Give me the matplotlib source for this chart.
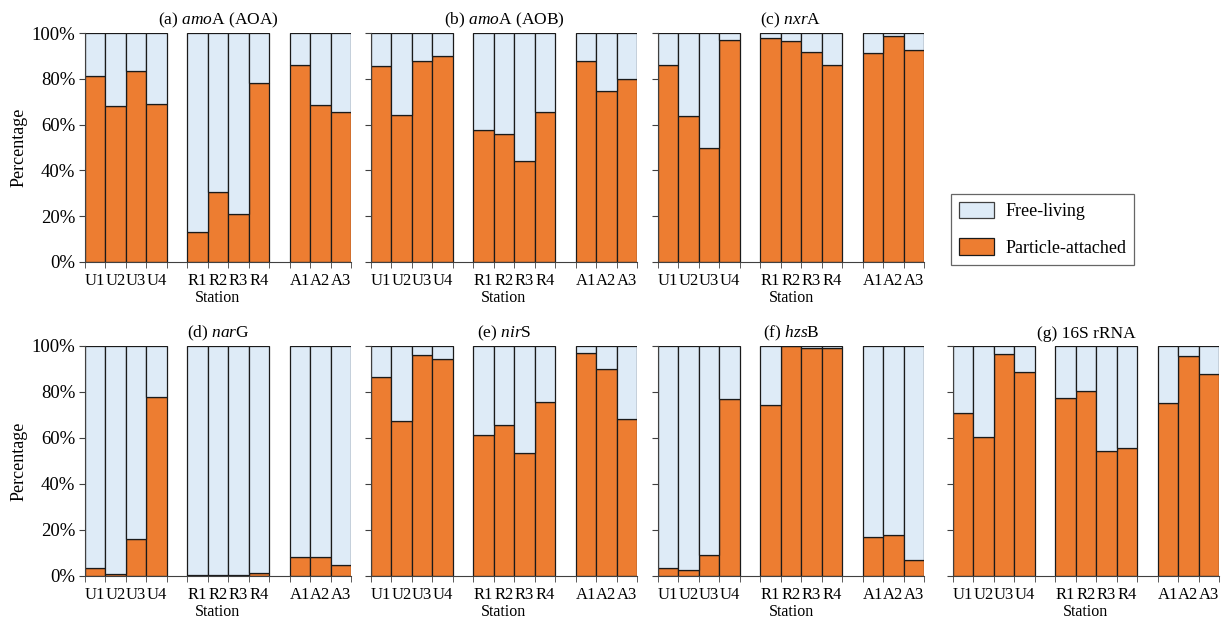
import matplotlib
matplotlib.use("Agg")
import matplotlib.pyplot as plt
import numpy as np
from matplotlib.patches import Patch

plt.rcParams['font.family'] = ['Liberation Serif', 'DejaVu Serif']
plt.rcParams['mathtext.fontset'] = 'custom'
plt.rcParams['mathtext.rm'] = 'Liberation Serif'
plt.rcParams['mathtext.it'] = 'Liberation Serif:italic'

stations = ["U1", "U2", "U3", "U4", "R1", "R2", "R3", "R4", "A1", "A2", "A3"]

titles = [
    r"(a) $\mathit{amo}$A (AOA)",
    r"(b) $\mathit{amo}$A (AOB)",
    r"(c) $\mathit{nxr}$A",
    r"(d) $\mathit{nar}$G",
    r"(e) $\mathit{nir}$S",
    r"(f) $\mathit{hzs}$B",
    "(g) 16S rRNA",
]

# Particle-attached share (%) per station; free-living is the remainder
amoA_AOA = [81.3, 68.0, 83.2, 69.0, 13.0, 30.4, 21.0, 78.2, 86.1, 68.5, 65.7]
amoA_AOB = [85.7, 64.1, 87.9, 89.8, 57.6, 55.8, 44.0, 65.6, 87.9, 74.8, 79.9]
nxrA = [85.9, 63.8, 49.8, 97.1, 97.7, 96.6, 91.7, 86.0, 91.1, 98.7, 92.6]
narG = [3.6, 1.0, 16.2, 78.0, 0.6, 0.6, 0.6, 1.3, 8.4, 8.4, 4.6]
nirS = [86.4, 67.5, 96.1, 94.2, 61.4, 65.5, 53.6, 75.5, 96.8, 90.1, 68.4]
hzsB = [3.6, 2.6, 9.0, 76.8, 74.2, 99.9, 99.3, 99.3, 16.9, 17.8, 6.9]
rRNA16S = [71.0, 60.3, 96.4, 88.6, 77.2, 80.4, 54.3, 55.5, 75.4, 95.7, 88.0]

particle_sets = [amoA_AOA, amoA_AOB, nxrA, narG, nirS, hzsB, rRNA16S]

orange = "#ED7D31"
lightblue = "#DEEBF7"

# slot positions: groups of 4, 4, 3 separated by an empty slot
pos = np.array([0, 1, 2, 3, 5, 6, 7, 8, 10, 11, 12])

fig = plt.figure(figsize=(12.25, 6.21), dpi=100)
W, H = 1225, 621
lefts = [85, 371, 658, 953]
ax_w = 266
rows = [(33, 262), (346, 576)]

# top row: three panels (legend fills the fourth slot); bottom row: four panels
grid = [(0, 0), (0, 1), (0, 2), (1, 0), (1, 1), (1, 2), (1, 3)]

axes = []
for (r, c) in grid:
    top, bot = rows[r]
    ax = fig.add_axes([lefts[c] / W, 1 - bot / H, ax_w / W, (bot - top) / H])
    axes.append(ax)

for i, ax in enumerate(axes):
    r, c = grid[i]
    pa = np.array(particle_sets[i])
    fl = 100 - pa
    ax.bar(pos, pa, width=1.0, color=orange, edgecolor="#1a1a1a", linewidth=0.9)
    ax.bar(pos, fl, bottom=pa, width=1.0, color=lightblue, edgecolor="#1a1a1a", linewidth=0.9)
    ax.set_xlim(-0.5, 12.5)
    ax.set_ylim(0, 100)
    for s in ["top", "right"]:
        ax.spines[s].set_visible(False)
    ax.spines["left"].set_color("#404040")
    ax.spines["bottom"].set_color("#404040")
    ax.set_xticks(pos)
    ax.set_xticklabels(stations, fontsize=12)
    ax.tick_params(axis="x", which="major", length=0, pad=8)
    ax.set_xticks(np.arange(-0.5, 13.0, 1.0), minor=True)
    ax.tick_params(axis="x", which="minor", length=4, direction="out", color="#404040")
    ax.set_yticks([0, 20, 40, 60, 80, 100])
    ax.tick_params(axis="y", length=4, direction="out", color="#404040", pad=3)
    if c == 0:
        ax.set_yticklabels(["0%", "20%", "40%", "60%", "80%", "100%"], fontsize=13.5)
        ax.set_ylabel("Percentage", fontsize=13, labelpad=3)
    else:
        ax.set_yticklabels([])
    ax.set_xlabel("Station", fontsize=11.5, labelpad=1)
    ax.set_title(titles[i], fontsize=12.5, pad=6)

handles = [
    Patch(facecolor=lightblue, edgecolor="#404040", linewidth=0.9, label="Free-living"),
    Patch(facecolor=orange, edgecolor="#1a1a1a", linewidth=0.9, label="Particle-attached"),
]
leg = fig.legend(handles=handles, loc="upper left",
                 bbox_to_anchor=(951 / W, 1 - 194 / H), fontsize=13,
                 frameon=True, fancybox=False, handlelength=1.95, handleheight=1.0,
                 labelspacing=1.0, borderpad=0.45, handletextpad=0.6,
                 borderaxespad=0.0)
leg.get_frame().set_edgecolor("#404040")
leg.get_frame().set_linewidth(0.9)

fig.savefig("out.png", dpi=100)
